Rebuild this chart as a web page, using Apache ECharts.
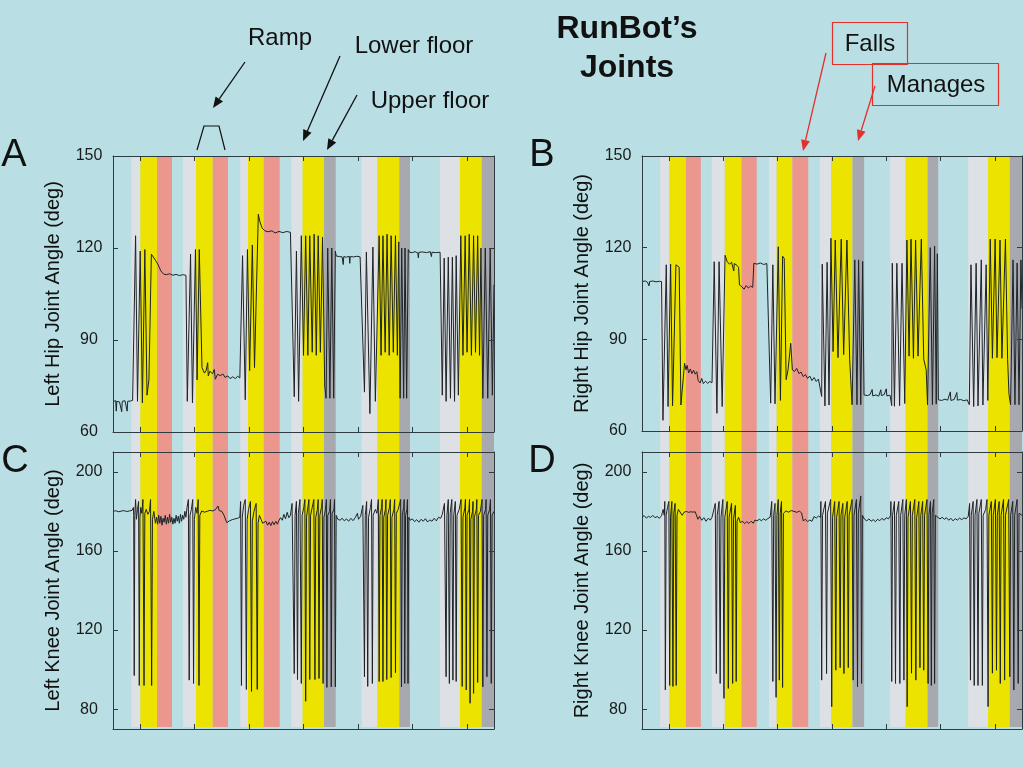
<!DOCTYPE html>
<html><head><meta charset="utf-8">
<script src="https://cdn.jsdelivr.net/npm/echarts@6/dist/echarts.min.js"></script>
<style>html,body{margin:0;padding:0;background:#b9dfe4;}#c{width:1024px;height:768px;}</style>
</head><body><div id="c"></div>
<script>
// ---------- DATA ----------
// time axis (s), ticks
const timeTicks = [5, 15, 25, 35, 45, 55, 65];
const hipTicks = [60, 90, 120, 150];
const kneeTicks = [80, 120, 160, 200];
// background bands: [start, end, kind]  kind: 0 light gray, 1 yellow, 2 salmon, 3 dark gray
const bands = [
  [3.36, 5.02, 0], [5.02, 8.08, 1], [8.08, 10.84, 2],
  [12.86, 15.25, 0], [15.25, 18.32, 1], [18.32, 21.13, 2],
  [23.39, 24.8, 0], [24.8, 27.69, 1], [27.69, 30.63, 2],
  [32.76, 34.82, 0], [34.82, 38.77, 1], [38.77, 40.92, 3],
  [45.69, 48.56, 0], [48.56, 52.6, 1], [52.6, 54.56, 3],
  [60.08, 63.75, 0], [63.75, 67.74, 1], [67.74, 70, 3]
];
const bandColors = ['#dde1e6', '#ede300', '#eb978d', '#a7a9ae'];

const hipLeft = [[0,70],[0.5,70.2],[0.6,66.8],[0.7,70],[1.2,69.8],[1.5,70.1],[1.6,66.6],[1.7,70],[2.2,70.2],[2.5,69.9],[2.6,66.8],[2.7,70],[3.2,70.1],[3.6,70.3],
[4.15,124],[4.5,70],[5.0,119],[5.4,69.5],[5.85,119.5],[6.25,72],[6.6,77],[7.05,118],[7.3,117.5],[7.8,116],[8.3,114.5],[8.8,112.5],[9.3,111.5],[9.8,111.3],[10.4,111.6],[11,111.1],[11.6,111.4],[12.2,111],[12.8,111.3],[13.4,111.1],
[13.65,70],[14.25,118],[14.6,69.5],[15.15,119.5],[15.45,77],[15.85,119.5],[16.35,81],[16.8,79.2],[17.1,80],[17.4,82.6],[17.5,78.3],[17.8,79.8],[18.3,79],[18.6,80.4],[18.8,77.2],[19.2,78.8],[19.7,78.4],[20.2,78.9],[20.6,77.8],[21.1,78.3],[21.5,77.4],[22,78],[22.5,77.4],[22.9,78.2],[23.3,77.6],
[23.8,117.5],[24.3,70.5],[24.7,119.5],[25.1,80],[25.6,121],[26.0,81],[26.7,131],[27.0,128.5],[27.4,126.5],[27.9,125.6],[28.5,125.3],[29.2,125.6],[29.8,124.9],[30.5,125.4],[31.2,125],[31.9,125.4],[32.6,125.1],
[33.3,71.5],[33.7,119],[34.1,70],[34.6,124],[35.0,85],[35.4,124],[35.8,85],[36.15,124],[36.6,86],[36.95,124.5],[37.35,85],[37.7,124],[38.1,86],[38.5,123.5],[38.9,75],[39.15,71],[39.45,120],[39.85,71],[40.2,120],[40.55,71],[40.85,119],[41.0,117.4],[41.6,117.2],[42.1,117.1],[42.3,114.6],[42.4,117.2],[42.9,117],[43.4,117.3],[43.5,115],[43.6,117.2],[44.2,117.1],[44.8,117.3],[45.4,117.1],
[46.2,73],[46.55,118.7],[47.2,66],[47.75,120.3],[48.2,70],[48.9,124],[49.25,85],[49.6,124],[50.0,86],[50.35,124.5],[50.75,85],[51.1,124],[51.5,86],[51.9,124],[52.25,85],[52.5,122],[52.75,71],[53.05,120],[53.4,71],[53.65,120],[53.95,71],[54.25,119.5],[54.5,118.6],[55,118.5],[55.5,118.8],[56,118.4],[56.1,116.8],[56.2,118.6],[56.9,118.7],[57.6,118.5],[58.3,118.8],[58.5,117.2],[58.6,118.6],[59.3,118.5],[60.1,118.6],
[60.5,72],[60.85,116.7],[61.2,70],[61.6,117],[62.0,71],[62.35,117],[62.75,70],[63.05,117.5],[63.45,72],[63.9,124],[64.3,85],[64.7,124],[65.05,86],[65.45,124.5],[65.85,85],[66.25,124],[66.6,86],[67.0,124],[67.35,85],[67.6,120],[67.95,71],[68.4,120],[68.85,71],[69.3,120],[69.7,72],[70,108]];

const hipRight = [[0,108.9],[0.6,109.1],[1.0,108.7],[1.3,107.5],[1.4,108.9],[2.0,109.1],[2.6,108.8],[3.2,109],[3.6,108.9],
[3.86,63.5],[4.47,114.4],[4.8,68],[5.27,114.6],[5.63,68.2],[6.25,114.4],[6.5,113.8],[6.85,113.6],[7.17,68.5],[7.84,82.2],[8.1,80],[8.3,81.5],[8.6,79],[8.9,80.3],[9.2,78.8],[9.5,79.9],[9.8,78.6],[10.1,79.4],[10.35,76.5],[10.7,75.7],[11.0,77.2],[11.3,75.5],[11.7,76.3],[12.1,75.6],[12.5,76.2],[12.9,75.8],
[13.3,115.4],[13.8,65.8],[14.2,115.4],[14.77,68],[15.3,117.5],[15.7,115.4],[16.1,114.6],[16.5,115.2],[16.9,112.4],[17.0,114.8],[17.5,114.2],[17.8,113.5],[17.95,107.8],[18.4,107.2],[18.8,106.4],[19.2,107.6],[19.6,106.8],[20.0,107.4],[20.4,107],[20.6,114.9],[21.2,114.6],[21.8,115],[22.4,114.5],[23.0,114.8],[23.3,114.4],
[23.7,69.1],[24.1,114.4],[24.5,68.9],[25.1,120.3],[25.5,70],[25.9,117.2],[26.2,116.5],[26.55,76.8],[26.9,80],[27.4,88.7],[27.7,80],[28.1,79.5],[28.5,80.5],[28.9,78.8],[29.3,79.3],[29.7,77.8],[30.1,78.5],[30.5,77.2],[30.9,78],[31.3,76.5],[31.7,77.5],[32.1,76.2],[32.5,77],[32.8,76.4],
[33.1,71.3],[33.2,114.6],[33.7,68.2],[34.1,115.2],[34.45,68.5],[34.8,123.1],[35.2,86],[35.6,122.5],[36.1,84],[36.7,122.8],[37.15,85],[37.75,122.5],[38.25,83.5],[38.45,76.8],[38.7,68.6],[39.2,116],[39.6,68.6],[39.9,116],[40.3,68.6],[40.65,115.5],[40.9,71.8],[41.5,71.6],[42.0,71.9],[42.4,73.6],[42.5,71.5],[43.1,71.8],[43.6,71.4],[44.0,73.5],[44.1,71.6],[44.6,71.9],[45.0,73.8],[45.1,71.5],[45.7,71.7],
[46.0,68.3],[46.1,114.9],[46.5,68.1],[46.95,114.9],[47.45,68.3],[47.9,114.9],[48.4,69],[48.8,122.5],[49.2,84.5],[49.55,122.8],[50.0,83.8],[50.4,122.5],[50.85,84.5],[51.45,122.8],[51.9,83.5],[52.35,80],[52.6,68.6],[53.1,120],[53.5,68.6],[53.9,120.5],[54.2,68.8],[54.4,118],[54.6,70.2],[55.2,70],[55.8,70.4],[56.3,70.1],[56.8,72.8],[56.9,70],[57.5,70.3],[58.0,72.6],[58.1,70.1],[58.7,70.3],[59.3,69.9],[59.9,70.2],
[60.3,68.6],[60.6,114.4],[61.1,68],[61.55,114.9],[61.9,68.2],[62.5,116],[62.8,68.5],[63.4,114.4],[63.7,70],[64.15,122.8],[64.55,83.8],[65.05,122.8],[65.4,84],[65.95,122.5],[66.3,83.8],[66.95,122.8],[67.35,83.5],[67.6,72],[67.9,68.6],[68.35,116],[68.7,68.6],[69.1,115],[69.45,68.6],[69.8,116],[70,100]];

const kneeLeft = [[0,180],[0.5,180.3],[1.0,179.8],[1.5,180.1],[2.0,180.4],[2.5,179.9],[3.0,180.2],[3.5,180.5],[3.75,182],
[3.8,178],[3.9,97],[4.0,178],[4.15,186],[4.3,176],[4.5,181],[4.7,185],[4.83,92],[4.95,177],[5.1,182],[5.3,179],[5.5,186],[5.7,92],[5.85,179],[6.1,181],[6.4,178.5],[6.7,180],[6.9,186],[7.1,92],[7.25,176],[7.5,180],[7.8,174],[8.0,177],[8.2,173.5],[8.4,178],[8.6,174],[8.8,177.5],[9.0,173],[9.2,176.5],[9.4,174.5],[9.6,178],[9.8,173.5],[10.0,177],[10.2,174],[10.4,178.5],[10.6,174.5],[10.8,177],[11.0,173.5],[11.2,176.5],[11.4,174],[11.6,178],[11.8,175],[12.0,177.5],[12.2,174],[12.4,178.5],[12.6,175],[12.8,178],[13.0,176],[13.2,180],
[13.4,177],[13.6,182],[13.85,186],[14.0,94.7],[14.15,178],[14.4,181],[14.65,186],[14.8,93],[14.95,176],[15.2,182],[15.45,179],[15.65,186],[15.8,92],[15.95,178],[16.3,180.2],[16.8,179.6],[17.3,180],[17.8,180.5],[18.3,180.2],[18.8,180.8],[19.3,182.7],[19.5,180.4],[20.0,180],[20.4,178],[20.9,174.3],[21.4,175.2],[21.9,175.8],[22.4,176.2],[22.9,176.5],[23.3,177],
[23.45,185],[23.6,92],[23.75,177],[24.0,183],[24.3,186],[24.5,90],[24.65,176],[24.9,181],[25.25,185],[25.45,89],[25.6,175],[25.9,180],[26.3,184],[26.5,90],[26.65,174],[26.9,178],[27.2,176],[27.5,174],[27.8,173.5],[28.1,175],[28.4,173],[28.7,174.5],[29.0,172.8],[29.3,174.8],[29.6,173.2],[29.9,175],[30.2,173.5],[30.5,175.5],[30.8,176.8],[31.1,175.5],[31.4,178.5],[31.7,176.2],[32.0,179.5],[32.3,176.8],[32.6,178],
[32.9,184],[33.3,98],[33.45,178],[33.7,185],[33.9,95],[34.05,179],[34.35,186],[34.6,93],[34.75,178],[35.05,182],[35.25,186],[35.4,84],[35.55,177],[35.85,183],[36.0,186],[36.15,95],[36.3,178],[36.6,182],[36.9,186],[37.1,95],[37.25,177],[37.55,181],[37.7,186],[37.85,95.5],[38.0,178],[38.3,182],[38.45,186],[38.6,93],[38.75,177],[39.05,181],[39.2,186],[39.3,91],[39.45,178],[39.8,180],[39.95,186],[40.1,91.3],[40.25,179],[40.6,181],[40.7,186],[40.85,91.3],[41.0,178],[41.3,176],[41.7,175.5],[42.1,176.5],[42.5,175.2],[42.9,176.2],[43.3,175],[43.7,176.5],[44.1,175.3],[44.5,176.8],[44.9,179],[45.1,176],[45.5,177.5],
[45.9,183],[46.2,96.4],[46.35,178],[46.6,185],[46.8,91.5],[46.95,177],[47.3,182],[47.5,186],[47.65,93],[47.8,178],[48.2,181],[48.5,179],[48.75,186],[48.9,94],[49.05,178],[49.35,182],[49.45,186],[49.6,94],[49.75,177],[50.05,181],[50.15,186],[50.3,95],[50.45,178],[50.8,182],[50.95,186],[51.1,96],[51.25,177],[51.6,181],[51.75,186],[51.9,98.5],[52.05,179],[52.4,181],[52.85,186],[53.0,91.3],[53.15,178],[53.4,182],[53.5,186],[53.6,93],[53.75,178],[54.0,181],[54.1,186],[54.2,93],[54.35,177],[54.6,175.5],[55.0,176.2],[55.4,174.8],[55.8,175.8],[56.2,174.5],[56.6,176],[57.0,175],[57.4,176.3],[57.8,174.6],[58.2,175.7],[58.6,175],[59.0,176.5],[59.4,175.2],[59.8,177],[60.2,176.5],[60.5,178.5],
[60.9,184],[61.2,96.4],[61.35,178],[61.6,186],[61.8,93],[61.95,179],[62.25,186],[62.45,94.7],[62.6,178],[62.9,185],[63.05,94],[63.2,178],[63.6,181],[63.95,186],[64.15,91.5],[64.3,177],[64.65,182],[64.75,186],[64.9,89.7],[65.05,178],[65.4,181],[65.5,186],[65.6,83],[65.75,176],[66.05,180],[66.15,185],[66.25,88],[66.4,177],[66.75,181],[66.85,186],[67.0,93.5],[67.15,178],[67.5,180],[67.8,186],[67.95,91.3],[68.1,178],[68.45,181],[68.55,186],[68.7,96.4],[68.85,178],[69.2,181],[69.35,186],[69.5,93],[69.65,178],[70,180]];

const kneeRight = [[0,177.2],[0.4,177.8],[0.8,176.6],[1.2,177.5],[1.6,176.9],[2.0,178],[2.4,176.8],[2.8,177.4],[3.2,176.5],[3.6,177.8],[3.9,181],[4.1,178],
[4.2,185],[4.3,89.7],[4.45,178],[4.7,182],[4.95,185],[5.1,92],[5.25,177],[5.5,185],[5.7,91.5],[5.85,179],[6.1,184],[6.3,92],[6.45,178],[6.7,181],[7.0,180],[7.4,178],[7.8,179.7],[8.2,179.9],[8.6,179.5],[9.0,179.8],[9.4,179.6],[9.8,179.8],[10.1,179.5],[10.3,176],[10.6,177.5],[11.0,175.5],[11.4,176.8],[11.8,175],[12.2,176.5],[12.6,175.6],[12.9,177],
[13.5,184],[13.7,98],[13.85,178],[14.2,185],[14.4,93],[14.55,177],[14.9,186],[15.1,85.5],[15.25,177],[15.7,185],[15.9,90.5],[16.05,177],[16.5,184],[16.7,93],[16.85,176],[17.2,183],[17.35,94],[17.5,175],[17.8,177],[18.1,174.3],[18.5,175],[18.9,173.8],[19.3,174.8],[19.7,173.9],[20.1,175],[20.5,174],[20.8,175.6],[21.2,175.2],[21.6,176],[22.0,175.3],[22.4,176.2],[22.8,175.5],[23.2,176.4],[23.6,177],
[23.9,185],[24.1,94],[24.25,178],[24.5,184],[24.7,86],[24.85,178],[25.1,186],[25.3,94.7],[25.45,179],[25.7,185],[25.9,91],[26.05,179],[26.5,180.2],[27.0,179.6],[27.5,180.4],[28.0,180],[28.5,179.5],[29.0,180.1],[29.4,179.2],[29.7,175.2],[30.1,176],[30.5,174.8],[30.9,175.6],[31.3,175],[31.7,177.4],[32.1,176.6],[32.5,177.6],[32.9,177],
[32.95,185],[33.1,94.7],[33.25,178],[33.8,185],[34.0,98],[34.15,179],[34.75,186],[34.95,81.3],[35.1,177],[35.5,185],[35.7,99.7],[35.85,177],[36.3,185],[36.5,101],[36.65,178],[37.0,184],[37.2,98],[37.35,177],[37.8,185],[38.0,101],[38.15,178],[38.7,186],[38.9,94.7],[39.05,178],[39.5,186],[39.7,91.3],[39.85,179],[40.3,187.8],[40.45,93],[40.6,178],[41.0,176],[41.4,175.2],[41.8,176.2],[42.2,175],[42.6,175.8],[43.0,174.8],[43.4,176],[43.8,175.3],[44.2,176.5],[44.6,175.5],[45.0,176.8],[45.4,176.2],[45.8,178],
[45.85,185],[46.0,94],[46.15,178],[46.5,185],[46.7,93],[46.85,178],[47.3,185],[47.5,93],[47.65,178],[48.05,186],[48.25,94.7],[48.4,178],[48.7,186],[48.85,81.3],[49.0,177],[49.45,185],[49.65,98.2],[49.8,178],[50.25,186],[50.45,94.7],[50.6,177],[51.0,185],[51.2,101],[51.35,178],[51.7,185],[51.9,99.7],[52.05,178],[52.5,186],[52.7,93],[52.85,178],[53.15,185],[53.3,92],[53.45,179],[53.75,186],[53.9,93],[54.05,178],[54.5,177],[54.9,176.2],[55.3,177],[55.7,176],[56.1,176.8],[56.5,175.5],[56.9,176.5],[57.3,175.2],[57.7,176.3],[58.1,175.6],[58.5,176.6],[58.9,175.8],[59.3,176.7],[59.7,176.2],[60.1,177.5],
[60.35,184],[60.5,94.7],[60.65,178],[61.0,185],[61.2,92],[61.35,178],[61.7,186],[61.9,92],[62.05,179],[62.5,186],[62.7,92],[62.85,178],[63.3,181],[63.55,186],[63.75,81.3],[63.9,178],[64.35,185],[64.55,98.2],[64.7,178],[65.1,186],[65.3,99.7],[65.45,178],[65.8,185],[66.0,93],[66.15,178],[66.6,186],[66.8,94.7],[66.95,178],[67.55,186],[67.75,96.4],[67.9,178],[68.3,185],[68.5,89.7],[68.65,178],[69.1,186],[69.3,93],[69.45,179],[70,178]];

const panelNames = ['Left Hip Joint Angle (deg)', 'Right Hip Joint Angle (deg)', 'Left Knee Joint Angle (deg)', 'Right Knee Joint Angle (deg)'];

// ---------- CHART ----------
const chart = echarts.init(document.getElementById('c'), null, {renderer: 'canvas'});
const FRAME = '#2e3b40';
const FONT = '"Liberation Sans", Arial, sans-serif';

const grids = [
  {left: 113, top: 156, width: 381, height: 571},
  {left: 642, top: 156, width: 380, height: 571},
  {left: 113, top: 156, width: 381, height: 276},
  {left: 642, top: 156, width: 380, height: 275},
  {left: 113, top: 452, width: 381, height: 277},
  {left: 642, top: 452, width: 380, height: 277}
];

const xAxes = [], yAxes = [];
for (let g = 0; g < 2; g++) {
  xAxes.push({type: 'value', gridIndex: g, min: 0, max: 70, show: false});
  yAxes.push({type: 'value', gridIndex: g, min: 0, max: 1, show: false});
}
const panelY = [
  {min: 60, max: 150, ticks: hipTicks},
  {min: 60, max: 150, ticks: hipTicks},
  {min: 70, max: 210, ticks: kneeTicks},
  {min: 70, max: 210, ticks: kneeTicks}
];
for (let p = 0; p < 4; p++) {
  const g = p + 2;
  ['bottom', 'top'].forEach(pos => xAxes.push({
    type: 'value', gridIndex: g, min: 0, max: 70, position: pos, z: 6,
    axisLine: {show: true, onZero: false, lineStyle: {color: FRAME, width: 1}},
    axisTick: {show: true, inside: true, length: 5, customValues: timeTicks, lineStyle: {color: FRAME}},
    axisLabel: {show: false}, splitLine: {show: false}
  }));
  ['left', 'right'].forEach(pos => yAxes.push({
    type: 'value', gridIndex: g, min: panelY[p].min, max: panelY[p].max, position: pos, z: 6,
    name: pos === 'left' ? panelNames[p] : '',
    nameLocation: 'middle', nameGap: 50,
    nameTextStyle: {fontFamily: FONT, fontSize: 20, color: '#111'},
    axisLine: {show: true, onZero: false, lineStyle: {color: FRAME, width: 1}},
    axisTick: {show: true, inside: true, length: 5, customValues: panelY[p].ticks, lineStyle: {color: FRAME}},
    axisLabel: {show: pos === 'left', customValues: panelY[p].ticks, align: 'center', margin: 24,
      fontFamily: FONT, fontSize: 16, color: '#1a1a1a'},
    splitLine: {show: false}
  }));
}

function bandSeries(idx) {
  return {
    type: 'custom', xAxisIndex: idx, yAxisIndex: idx, z: 1, silent: true,
    data: bands,
    encode: {x: [0, 1]},
    renderItem: function (params, api) {
      const p0 = api.coord([api.value(0), 1]);
      const p1 = api.coord([api.value(1), 0]);
      return {type: 'rect', shape: {x: p0[0], y: p0[1], width: p1[0] - p0[0], height: p1[1] - p0[1]},
        style: {fill: bandColors[api.value(2)]}};
    }
  };
}
function traceSeries(data, axisIdx) {
  return {
    type: 'line', data: data, xAxisIndex: axisIdx, yAxisIndex: axisIdx, z: 3,
    symbol: 'none', silent: true, clip: true,
    lineStyle: {color: '#1d2427', width: 1}
  };
}

function arrow(x1, y1, x2, y2, color) {
  const a = Math.atan2(y2 - y1, x2 - x1), L = 11, W = 4.5;
  const bx = x2 - L * Math.cos(a), by = y2 - L * Math.sin(a);
  return [
    {type: 'line', shape: {x1: x1, y1: y1, x2: bx, y2: by}, style: {stroke: color, lineWidth: 1.3}},
    {type: 'polygon', shape: {points: [[x2, y2], [bx + W * Math.sin(a), by - W * Math.cos(a)], [bx - W * Math.sin(a), by + W * Math.cos(a)]]}, style: {fill: color}}
  ];
}
function txt(x, y, s, size, weight) {
  return {type: 'text', x: x, y: y, style: {text: s, fontFamily: FONT, fontSize: size, fontWeight: weight || 'normal',
    fill: '#111', align: 'center', verticalAlign: 'middle'}};
}
const RED = '#e3302a';
const graphics = [].concat(
  [txt(627, 29, 'RunBot’s', 32, 'bold'), txt(627, 68, 'Joints', 32, 'bold'),
   txt(14, 156, 'A', 38), txt(542, 156, 'B', 38), txt(15, 462, 'C', 38), txt(542, 462, 'D', 38),
   txt(280, 38, 'Ramp', 24), txt(414, 46, 'Lower floor', 24), txt(430, 101, 'Upper floor', 24),
   txt(870, 44, 'Falls', 24), txt(936, 85, 'Manages', 24),
   {type: 'rect', shape: {x: 832.5, y: 22.5, width: 75, height: 42}, style: {fill: 'none', stroke: RED, lineWidth: 1.2}},
   {type: 'rect', shape: {x: 872.5, y: 63.5, width: 126, height: 42}, style: {fill: 'none', stroke: RED, lineWidth: 1.2}},
   {type: 'polyline', shape: {points: [[197, 150], [204, 126], [219, 126], [225, 150]]}, style: {stroke: '#111', lineWidth: 1.2, fill: 'none'}}
  ],
  arrow(245, 62, 213, 108, '#111'),
  arrow(340, 56, 303, 141, '#111'),
  arrow(357, 95, 327, 150, '#111'),
  arrow(826, 53, 803, 151, RED),
  arrow(875, 86, 858, 141, RED)
);

chart.setOption({
  animation: false,
  backgroundColor: '#b9dfe4',
  grid: grids,
  xAxis: xAxes,
  yAxis: yAxes,
  graphic: graphics,
  series: [
    bandSeries(0), bandSeries(1),
    traceSeries(hipLeft, 2), traceSeries(hipRight, 4),
    traceSeries(kneeLeft, 6), traceSeries(kneeRight, 8)
  ]
});
</script></body></html>
